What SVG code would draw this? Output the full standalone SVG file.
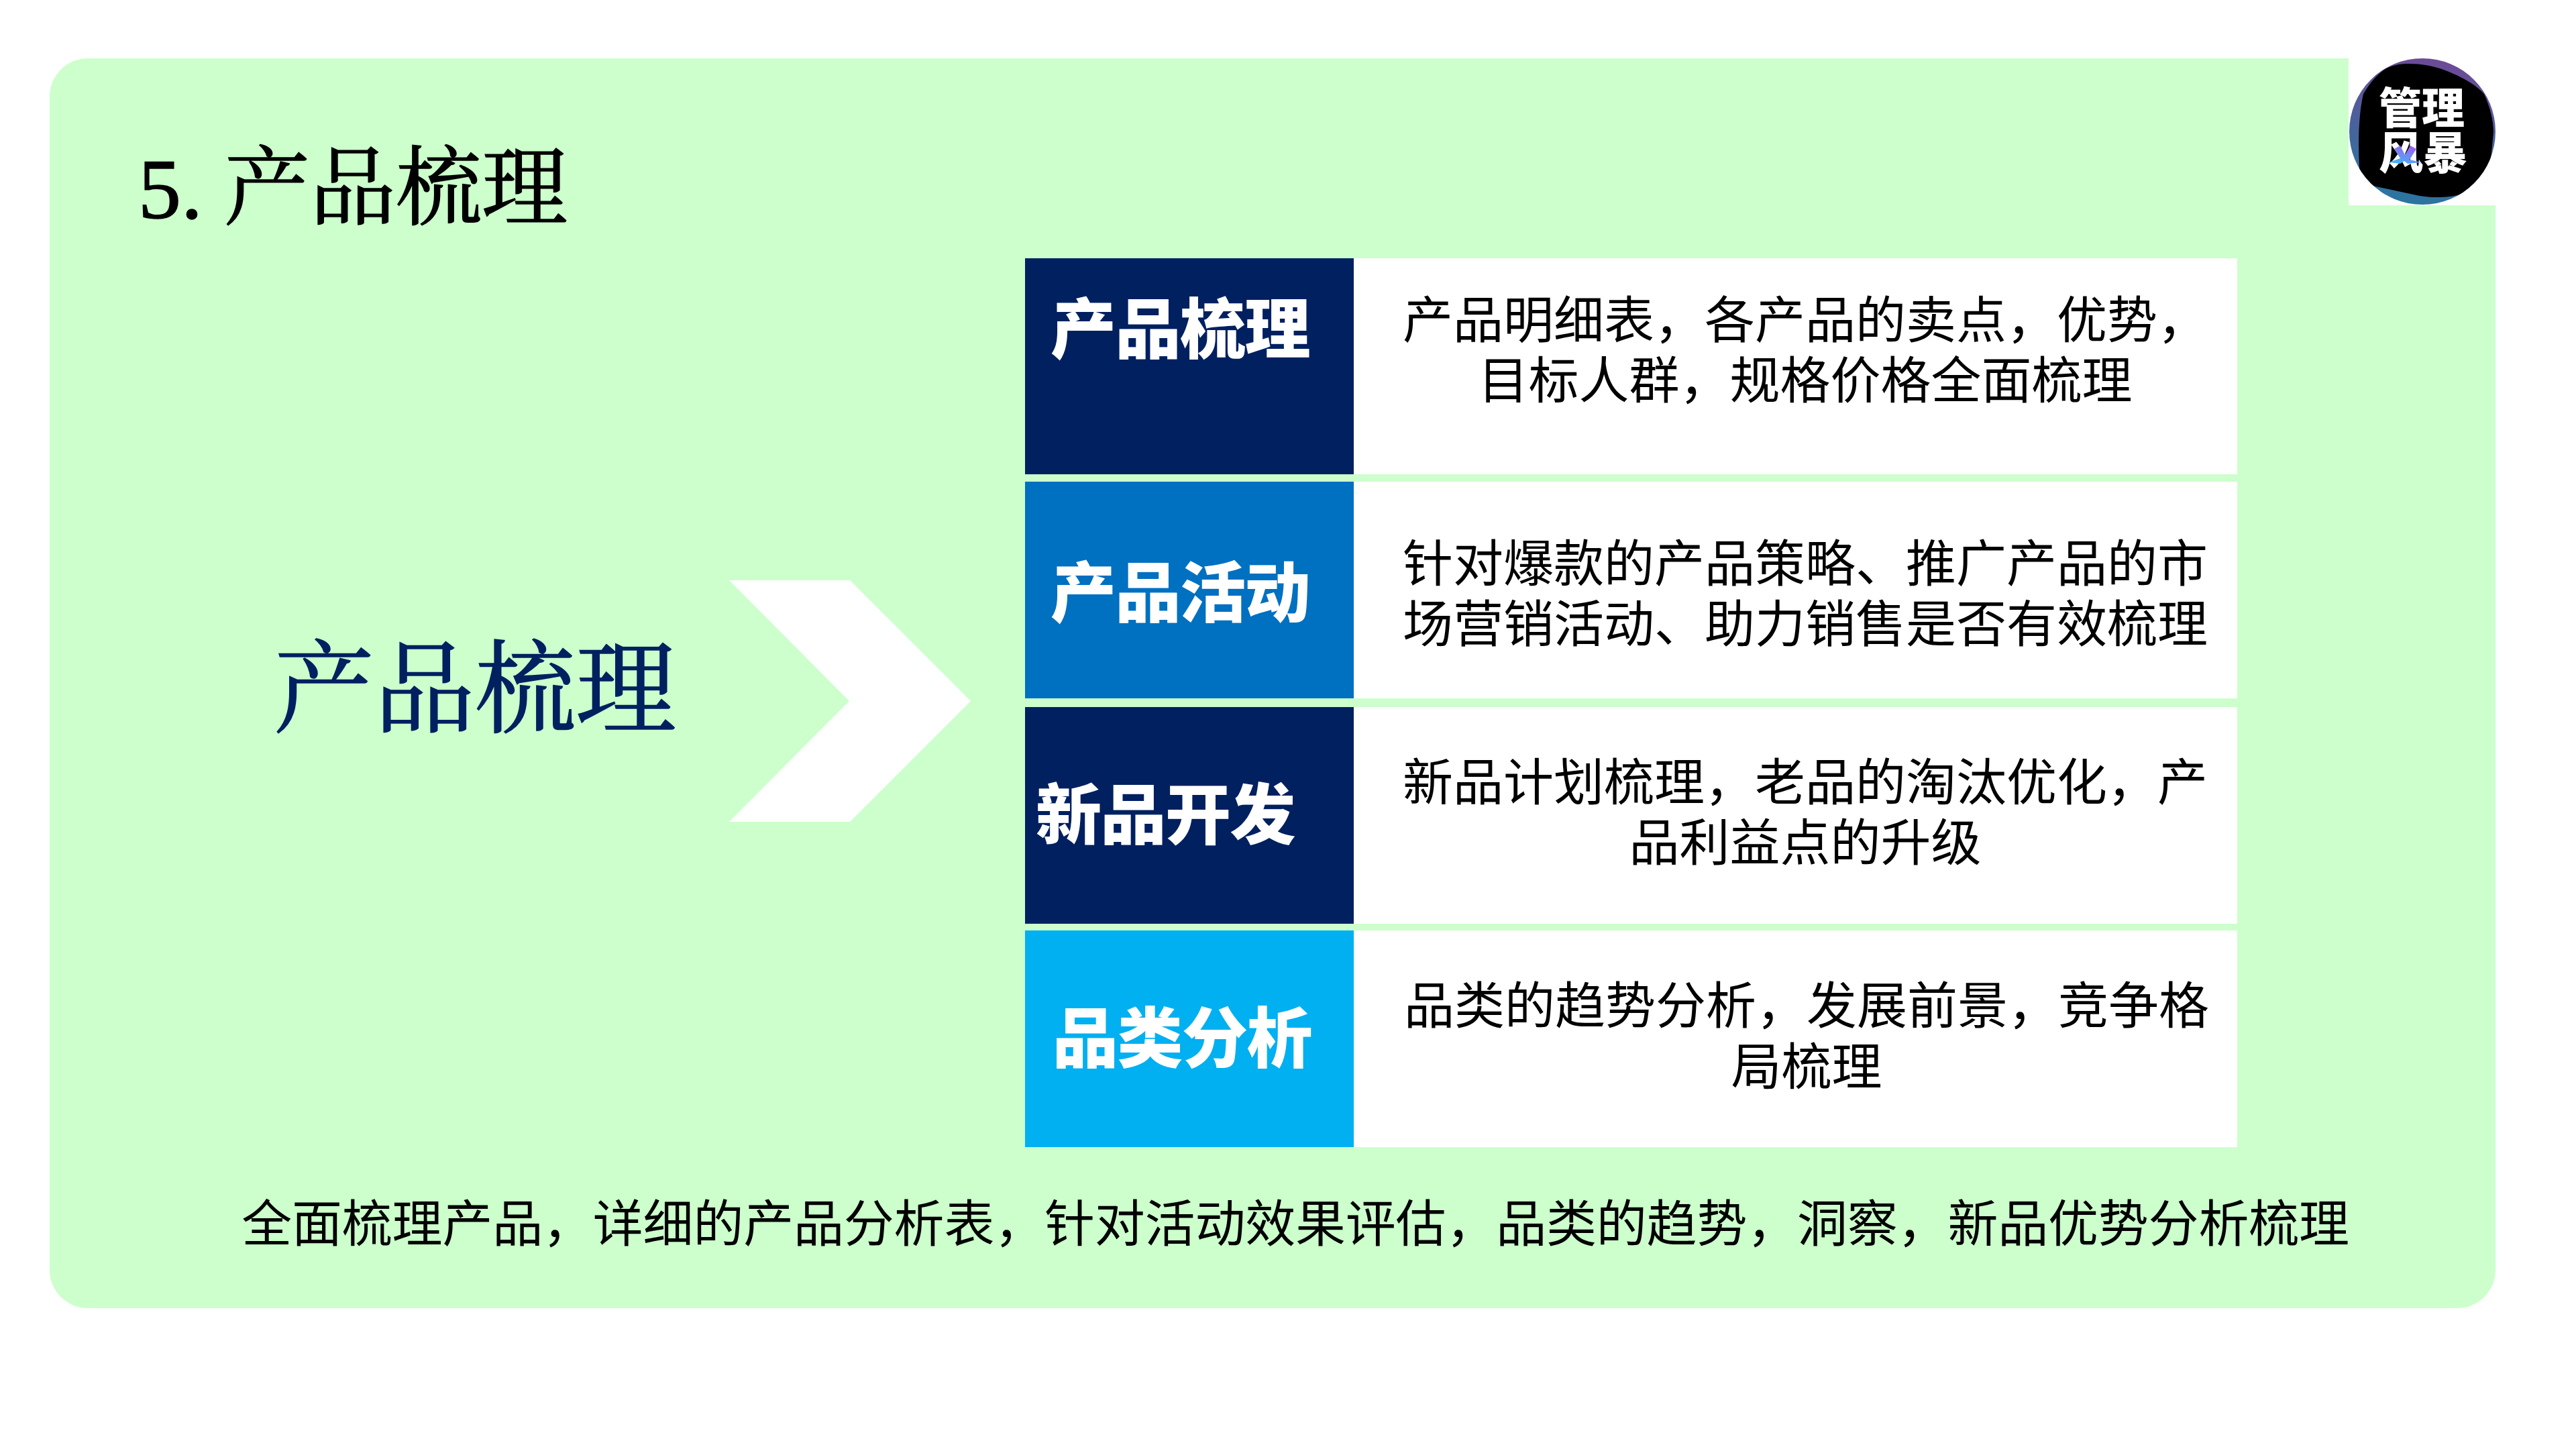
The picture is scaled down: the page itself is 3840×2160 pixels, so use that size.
<svg xmlns="http://www.w3.org/2000/svg" width="3840" height="2160" viewBox="0 0 3840 2160">
<style>
.body{font-family:"Noto Sans CJK SC","Liberation Sans",sans-serif;font-size:75px;fill:#000;text-anchor:middle}
.head{font-family:"Noto Sans CJK SC","Liberation Sans",sans-serif;font-size:98px;letter-spacing:-1.5px;font-weight:900;fill:#fff}
.song{font-family:"Liberation Serif","Noto Serif CJK SC",serif;font-weight:400;stroke-width:1.6px}
.logo{font-family:"Noto Sans CJK SC",sans-serif;font-weight:900;fill:#fff}
</style>
<defs>
<linearGradient id="ring" x1="0.6" y1="0" x2="0.4" y2="1"><stop offset="0" stop-color="#6d4a96"/><stop offset="1" stop-color="#2a76a0"/></linearGradient>
<linearGradient id="x" x1="0.7" y1="0" x2="0.2" y2="1"><stop offset="0" stop-color="#a05cf0"/><stop offset="1" stop-color="#40b8f8"/></linearGradient>
<clipPath id="cc"><circle cx="3611" cy="196" r="109"/></clipPath>
</defs>
<rect width="3840" height="2160" fill="#fff"/>
<g id="panel">
<rect x="74" y="87" width="3646" height="1863" rx="57" ry="57" fill="#ccffcc"/>
<rect x="3501" y="80" width="225" height="226" fill="#fff"/>
</g>
<text id="title" class="song" x="206" y="325" font-size="128" fill="#000" stroke="#000">5. 产品梳理</text>
<g id="logo">
<circle cx="3611" cy="196" r="109" fill="url(#ring)"/>
<path clip-path="url(#cc)" fill="#000" d="M3517 250C3515 210 3516 170 3523 140C3535 120 3545 110 3557 102C3570 96 3580 95 3590 95C3610 95 3625 98 3640 103C3665 112 3690 125 3703 140C3712 160 3717 180 3717 197L3713 237L3720 300L3667 290C3650 295 3625 295 3607 292L3537 277L3500 280Z"/>
<text class="logo"><tspan x="3546" y="184" font-size="64">管理</tspan><tspan x="3546" y="252" font-size="66">风暴</tspan></text>
<path fill="url(#x)" d="M3569 222L3578 217L3585 231L3593 217L3602 222L3592 238L3609 242L3589 244L3584 240L3578 244L3561 242L3578 236Z"/>
</g>
<g id="main-label"><text class="song" x="408" y="1080" font-size="150" fill="#002060" stroke="#002060">产品梳理</text></g>
<polygon id="chevron" fill="#fff" points="1087,865 1267,865 1447,1045 1267,1225 1087,1225 1266,1045"/>
<g id="row1">
<rect x="1528" y="385" width="490" height="322" fill="#002060"/>
<rect x="2018" y="385" width="1317" height="322" fill="#fff"/>
<text class="head" x="1566" y="526">产品梳理</text>
<text class="body"><tspan x="2691" y="504">产品明细表，各产品的卖点，优势，</tspan><tspan x="2691" y="594">目标人群，规格价格全面梳理</tspan></text>
</g>
<g id="row2">
<rect x="1528" y="718" width="490" height="323" fill="#0070c0"/>
<rect x="2018" y="718" width="1317" height="323" fill="#fff"/>
<text class="head" x="1566" y="919">产品活动</text>
<text class="body"><tspan x="2691" y="867">针对爆款的产品策略、推广产品的市</tspan><tspan x="2691" y="957">场营销活动、助力销售是否有效梳理</tspan></text>
</g>
<g id="row3">
<rect x="1528" y="1054" width="490" height="323" fill="#002060"/>
<rect x="2018" y="1054" width="1317" height="323" fill="#fff"/>
<text class="head" x="1544" y="1250">新品开发</text>
<text class="body"><tspan x="2691" y="1193">新品计划梳理，老品的淘汰优化，产</tspan><tspan x="2691" y="1283">品利益点的升级</tspan></text>
</g>
<g id="row4">
<rect x="1528" y="1387" width="490" height="323" fill="#00b0f0"/>
<rect x="2018" y="1387" width="1317" height="323" fill="#fff"/>
<text class="head" x="1569" y="1583">品类分析</text>
<text class="body"><tspan x="2693" y="1526">品类的趋势分析，发展前景，竞争格</tspan><tspan x="2693" y="1617">局梳理</tspan></text>
</g>
<text id="summary" class="body" x="1931" y="1851" letter-spacing="-0.2">全面梳理产品，详细的产品分析表，针对活动效果评估，品类的趋势，洞察，新品优势分析梳理</text>
</svg>
